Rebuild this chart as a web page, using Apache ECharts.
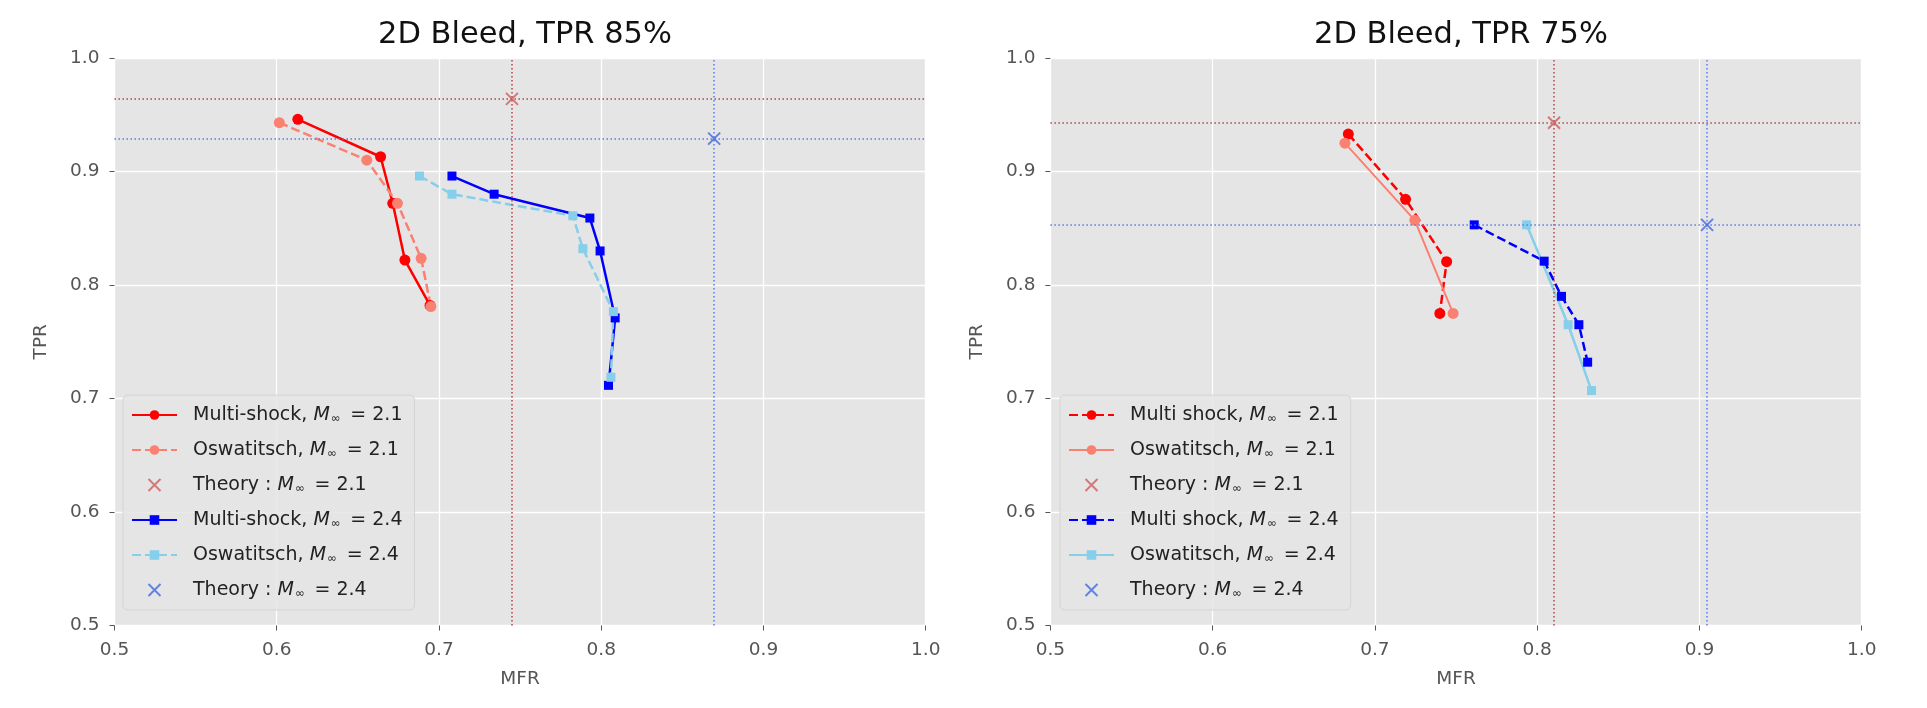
<!DOCTYPE html>
<html>
<head>
<meta charset="utf-8">
<script src="https://cdn.jsdelivr.net/npm/echarts@6/dist/echarts.min.js"></script>
<style>
  body { margin: 0; background: #fff; }
  #left { position: absolute; left: 0; top: 0; width: 963px; height: 708px; }
  #right { position: absolute; left: 963px; top: 0; width: 964px; height: 708px; }
</style>
</head>
<body>
<div id="left"></div>
<div id="right"></div>
<script>
// TPR 85% panel
var ms21_85_x = [0.613, 0.664, 0.6715, 0.679, 0.6945]
var ms21_85_y = [0.946, 0.913, 0.872, 0.822, 0.782]
var osw21_85_x = [0.6016, 0.6555, 0.6744, 0.689, 0.695]
var osw21_85_y = [0.943, 0.910, 0.872, 0.8235, 0.781]
var ms24_85_x = [0.708, 0.734, 0.793, 0.7993, 0.8086, 0.8045]
var ms24_85_y = [0.896, 0.880, 0.859, 0.830, 0.771, 0.7116]
var osw24_85_x = [0.688, 0.708, 0.7825, 0.7887, 0.8075, 0.806]
var osw24_85_y = [0.896, 0.880, 0.861, 0.832, 0.7765, 0.7187]
var theory21_85 = [0.745, 0.964]
var theory24_85 = [0.8696, 0.929]

// TPR 75% panel
var ms21_75_x = [0.6836, 0.7189, 0.7442, 0.7400]
var ms21_75_y = [0.933, 0.8755, 0.8205, 0.775]
var osw21_75_x = [0.6815, 0.7246, 0.7482]
var osw21_75_y = [0.925, 0.857, 0.775]
var ms24_75_x = [0.7612, 0.8043, 0.8150, 0.8257, 0.8311]
var ms24_75_y = [0.853, 0.821, 0.790, 0.765, 0.732]
var osw24_75_x = [0.7935, 0.8191, 0.8335]
var osw24_75_y = [0.853, 0.765, 0.707]
var theory21_75 = [0.8104, 0.943]
var theory24_75 = [0.9047, 0.853]

var FONT = 'DejaVu Sans'
var xMark = 'path://M0,0L10,10M0,10L10,0'

function pairs(xs, ys) {
    var out = []
    for (var i = 0; i < xs.length; i++) {
        out.push([xs[i], ys[i]])
    }
    return out
}

function lineSeries(name, xs, ys, color, dashed, symbol, size, width) {
    return {
        type: 'line',
        name: name,
        data: pairs(xs, ys),
        symbol: symbol,
        symbolSize: size,
        showSymbol: true,
        lineStyle: { color: color, width: width, type: dashed ? [9, 4] : 'solid' },
        itemStyle: { color: color },
        emphasis: { disabled: true },
        animation: false
    }
}

function theorySeries(name, pt, color, lineColor) {
    return {
        type: 'scatter',
        name: name,
        data: [pt],
        symbol: xMark,
        symbolSize: 12,
        itemStyle: { color: color, borderColor: color, borderWidth: 2 },
        z: 5,
        markLine: {
            silent: true,
            symbol: 'none',
            precision: 5,
            label: { show: false },
            lineStyle: { color: lineColor, width: 1.5, type: [1.5, 2.5] },
            data: [{ xAxis: pt[0] }, { yAxis: pt[1] }]
        },
        animation: false
    }
}

function axis(name, vertical) {
    return {
        type: 'value',
        min: 0.5,
        max: 1.0,
        interval: 0.1,
        name: name,
        nameLocation: 'middle',
        nameGap: vertical ? 64 : 44,
        nameTextStyle: { fontFamily: FONT, fontSize: 18.5, color: '#555' },
        axisLine: { show: false },
        axisTick: { show: true, inside: false, length: 5, lineStyle: { color: '#555' } },
        axisLabel: {
            fontFamily: FONT, fontSize: 18.5, color: '#555', margin: 15,
            formatter: function (v) { return v.toFixed(1) }
        },
        splitLine: { show: true, lineStyle: { color: '#fff', width: 1.3 } }
    }
}

function legendItems(names, theoryColors) {
    return names.map(function (n) {
        if (n.indexOf('Theory') === 0) {
            return { name: n, itemStyle: { borderColor: theoryColors[n], borderWidth: 2 } }
        }
        return { name: n }
    })
}

function draw(domId, title, series, names, theoryColors, grid) {
    var chart = echarts.init(document.getElementById(domId))
    var option = {
        backgroundColor: '#fff',
        title: {
            text: title,
            left: grid.center,
            textAlign: 'center',
            top: 15,
            textStyle: { fontFamily: FONT, fontSize: 30.5, fontWeight: 'normal', color: '#111' }
        },
        grid: {
            left: grid.left, right: grid.right, top: 58, bottom: 82.5,
            outerBoundsMode: 'none',
            containLabel: false,
            show: true, backgroundColor: '#e5e5e5', borderWidth: 0
        },
        xAxis: axis('MFR', false),
        yAxis: axis('TPR', true),
        legend: {
            orient: 'vertical',
            left: grid.legendLeft,
            top: 395,
            padding: [10, 12, 10, 8],
            backgroundColor: 'rgba(229,229,229,0.85)',
            borderColor: '#d4d4d4',
            borderWidth: 1,
            borderRadius: 5,
            itemWidth: 45,
            itemHeight: 12,
            itemGap: 15,
            data: legendItems(names, theoryColors),
            formatter: function (n) {
                return n.replace('M∞ = ', '{m|M}{s|∞}{e|=}')
            },
            textStyle: {
                fontFamily: FONT, fontSize: 19, color: '#222', lineHeight: 20,
                padding: [0, 0, 0, 11],
                rich: {
                    m: { fontFamily: FONT, fontSize: 19, fontStyle: 'italic', color: '#222', padding: [0, 1, 0, 0] },
                    s: { fontFamily: FONT, fontSize: 11.5, color: '#222', padding: [8, 0, 0, 0] },
                    e: { fontFamily: FONT, fontSize: 19, color: '#222', padding: [0, 6, 0, 10] }
                }
            }
        },
        series: series
    }
    chart.setOption(option)
}

var leftNames = ['Multi-shock, M∞ = 2.1', 'Oswatitsch, M∞ = 2.1', 'Theory : M∞ = 2.1',
    'Multi-shock, M∞ = 2.4', 'Oswatitsch, M∞ = 2.4', 'Theory : M∞ = 2.4']
var rightNames = ['Multi shock, M∞ = 2.1', 'Oswatitsch, M∞ = 2.1', 'Theory : M∞ = 2.1',
    'Multi shock, M∞ = 2.4', 'Oswatitsch, M∞ = 2.4', 'Theory : M∞ = 2.4']
var thColors = { 'Theory : M∞ = 2.1': '#cd5c5c', 'Theory : M∞ = 2.4': '#4169e1' }

draw('left', '2D Bleed, TPR 85%', [
    lineSeries(leftNames[0], ms21_85_x, ms21_85_y, '#ff0000', false, 'circle', 11, 2.5),
    lineSeries(leftNames[1], osw21_85_x, osw21_85_y, '#fa8072', true, 'circle', 11, 2.5),
    theorySeries(leftNames[2], theory21_85, '#cd5c5c', '#b0464a'),
    lineSeries(leftNames[3], ms24_85_x, ms24_85_y, '#0000ff', false, 'rect', 9, 2.5),
    lineSeries(leftNames[4], osw24_85_x, osw24_85_y, '#87ceeb', true, 'rect', 9, 2.5),
    theorySeries(leftNames[5], theory24_85, '#4169e1', '#5a7be6')
], leftNames, thColors, { left: 114.5, right: 37.3, center: 520, legendLeft: 123 })

draw('right', '2D Bleed, TPR 75%', [
    lineSeries(rightNames[0], ms21_75_x, ms21_75_y, '#ff0000', true, 'circle', 11, 2.5),
    lineSeries(rightNames[1], osw21_75_x, osw21_75_y, '#fa8072', false, 'circle', 11, 2),
    theorySeries(rightNames[2], theory21_75, '#cd5c5c', '#b0464a'),
    lineSeries(rightNames[3], ms24_75_x, ms24_75_y, '#0000ff', true, 'rect', 9, 2.5),
    lineSeries(rightNames[4], osw24_75_x, osw24_75_y, '#87ceeb', false, 'rect', 9, 2.5),
    theorySeries(rightNames[5], theory24_75, '#4169e1', '#5a7be6')
], rightNames, thColors, { left: 87.4, right: 65.3, center: 493, legendLeft: 97 })
</script>
</body>
</html>
